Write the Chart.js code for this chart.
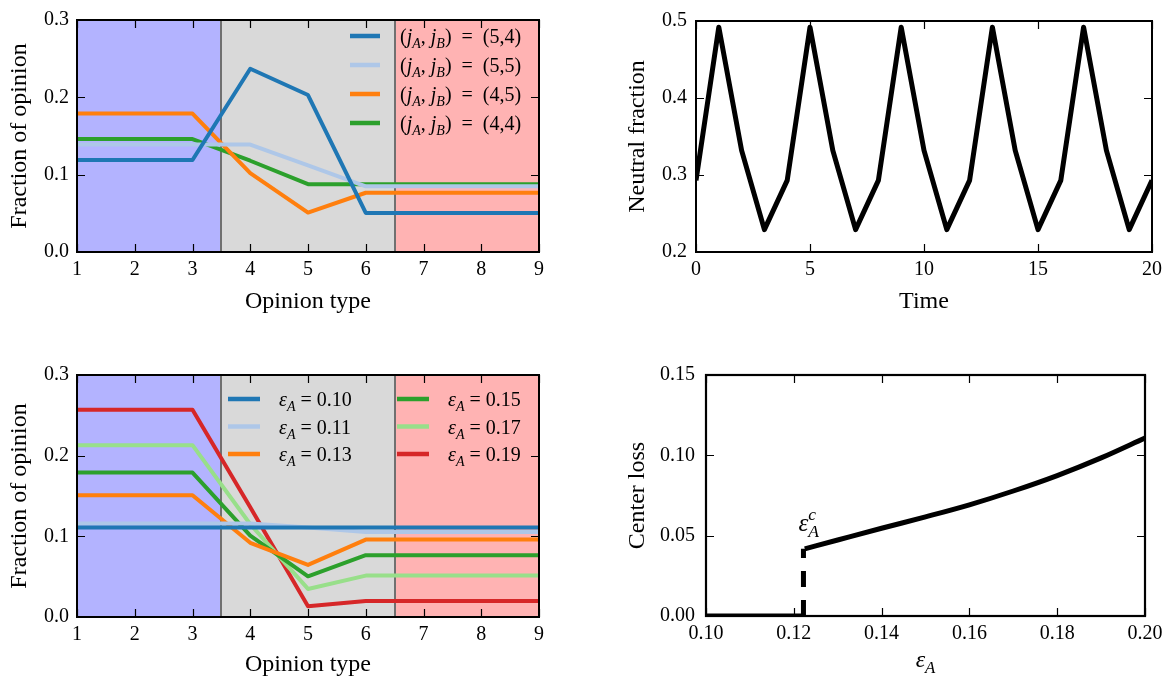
<!DOCTYPE html>
<html><head><meta charset="utf-8">
<script src="https://cdn.jsdelivr.net/npm/chart.js@4"></script>
<style>
body{margin:0;background:#fff;width:1170px;height:685px;position:relative;overflow:hidden}
canvas{position:absolute}
</style>
</head><body>
<canvas id="c1" width="585" height="340" style="left:0;top:0"></canvas>
<canvas id="c2" width="585" height="340" style="left:585px;top:0"></canvas>
<canvas id="c3" width="585" height="345" style="left:0;top:340px"></canvas>
<canvas id="c4" width="585" height="345" style="left:585px;top:340px"></canvas>
<script>
// ---------- data ----------
const opinionTypes = [1, 2, 3, 4, 5, 6, 7, 8, 9];
const regionBounds = [1, 3.5, 6.5, 9];

// top-left: (jA, jB) cases
const series54 = [0.119, 0.119, 0.119, 0.237, 0.203, 0.0505, 0.0505, 0.0505, 0.0505];
const series55 = [0.139, 0.139, 0.139, 0.139, 0.112, 0.085, 0.085, 0.085, 0.085];
const series45 = [0.179, 0.179, 0.179, 0.102, 0.051, 0.0766, 0.0766, 0.0766, 0.0766];
const series44 = [0.146, 0.146, 0.146, 0.118, 0.0877, 0.0877, 0.0877, 0.0877, 0.0877];
const pairLabels = ['(5,4)', '(5,5)', '(4,5)', '(4,4)'];

// top-right: neutral fraction over time
const timeSteps = [0, 1, 2, 3, 4, 5, 6, 7, 8, 9, 10, 11, 12, 13, 14, 15, 16, 17, 18, 19, 20];
const neutralFraction = [0.293, 0.492, 0.332, 0.229, 0.293, 0.492, 0.332, 0.229, 0.293, 0.492,
  0.332, 0.229, 0.293, 0.492, 0.332, 0.229, 0.293, 0.492, 0.332, 0.229, 0.293];

// bottom-left: epsilon_A cases
const epsLabels = ['0.10', '0.11', '0.13', '0.15', '0.17', '0.19'];
const eps010 = [0.111, 0.111, 0.111, 0.111, 0.111, 0.111, 0.111, 0.111, 0.111];
const eps011 = [0.116, 0.116, 0.116, 0.116, 0.111, 0.1055, 0.1055, 0.1055, 0.1055];
const eps013 = [0.151, 0.151, 0.151, 0.092, 0.0646, 0.096, 0.096, 0.096, 0.096];
const eps015 = [0.179, 0.179, 0.179, 0.101, 0.0505, 0.0766, 0.0766, 0.0766, 0.0766];
const eps017 = [0.213, 0.213, 0.213, 0.115, 0.0348, 0.0513, 0.0513, 0.0513, 0.0513];
const eps019 = [0.257, 0.257, 0.257, 0.136, 0.0132, 0.0199, 0.0199, 0.0199, 0.0199];

// bottom-right: center loss
const zeroEps = [0.10, 0.1222];
const zeroLoss = [0, 0];
const critEps = [0.1222, 0.1222];
const critLoss = [0, 0.0418];
const curveEps = [0.1225, 0.13, 0.14, 0.15, 0.16, 0.17, 0.18, 0.19, 0.20];
const curveLoss = [0.0418, 0.0473, 0.0546, 0.0617, 0.0692, 0.0778, 0.0874, 0.0984, 0.1108];

// ---------- helpers ----------
const FAM = '"Liberation Serif", "Times New Roman", serif';
const C = {blue:'#1f77b4', lblue:'#aec7e8', orange:'#ff7f0e', green:'#2ca02c', lgreen:'#98df8a', red:'#d62728'};
const regionColors = ['#b3b3ff', '#d9d9d9', '#ffb3b3'];

const pts = (xs, ys) => xs.map((x, i) => ({x, y: ys[i]}));

function drawRich(ctx, x, y, parts, size, measureOnly) {
  let cx = x, prevX = x;
  for (const p of parts) {
    const [t, st] = p;
    const it = st.includes('i');
    const sub = st.includes('b'), sup = st.includes('p');
    const fs = (sub || sup) ? size * 0.7 : size;
    ctx.font = (it ? 'italic ' : '') + fs + 'px ' + FAM;
    if (st.includes('k')) cx = prevX;
    const dy = sub ? size * 0.25 : (sup ? -size * 0.42 : 0);
    const w = ctx.measureText(t).width;
    if (!measureOnly) ctx.fillText(t, cx, y + dy);
    prevX = cx;
    cx += w;
  }
  return cx - x;
}

const framePlugin = {
  id: 'frame',
  beforeDatasetsDraw(chart, args, o) {
    if (!o.regions) return;
    const {ctx, chartArea: a, scales: {x}} = chart;
    ctx.save();
    for (let i = 0; i < regionColors.length; i++) {
      const x0 = x.getPixelForValue(regionBounds[i]);
      const x1 = x.getPixelForValue(regionBounds[i + 1]);
      ctx.fillStyle = regionColors[i];
      ctx.fillRect(x0, a.top, x1 - x0, a.bottom - a.top);
    }
    ctx.strokeStyle = '#707070';
    ctx.lineWidth = 2;
    for (let i = 1; i < regionBounds.length - 1; i++) {
      const px = Math.round(x.getPixelForValue(regionBounds[i]));
      ctx.beginPath(); ctx.moveTo(px, a.top); ctx.lineTo(px, a.bottom); ctx.stroke();
    }
    ctx.restore();
  },
  afterDatasetsDraw(chart, args, o) {
    const {ctx, chartArea: a, scales: {x, y}} = chart;
    ctx.save();
    ctx.strokeStyle = '#000'; ctx.lineWidth = 1.2;
    const TL = 8;
    x.ticks.forEach(t => {
      const px = Math.round(x.getPixelForValue(t.value)) + 0.5;
      ctx.beginPath();
      ctx.moveTo(px, a.bottom); ctx.lineTo(px, a.bottom - TL);
      ctx.moveTo(px, a.top); ctx.lineTo(px, a.top + TL);
      ctx.stroke();
    });
    y.ticks.forEach(t => {
      const py = Math.round(y.getPixelForValue(t.value)) + 0.5;
      ctx.beginPath();
      ctx.moveTo(a.left, py); ctx.lineTo(a.left + TL, py);
      ctx.moveTo(a.right, py); ctx.lineTo(a.right - TL, py);
      ctx.stroke();
    });
    ctx.lineWidth = o.frameWidth || 2;
    ctx.strokeRect(a.left, a.top, a.right - a.left, a.bottom - a.top);
    if (o.legend) {
      const L = o.legend;
      L.items.forEach((it, i) => {
        const col = Math.floor(i / L.rows);
        const row = i % L.rows;
        const cy = L.y0 + row * L.dy;
        const lx = L.x0[col];
        ctx.strokeStyle = it.color; ctx.lineWidth = 4.5; ctx.lineCap = 'butt';
        ctx.beginPath(); ctx.moveTo(lx, cy); ctx.lineTo(lx + L.lineLen, cy); ctx.stroke();
        ctx.fillStyle = '#000'; ctx.textBaseline = 'alphabetic'; ctx.textAlign = 'left';
        drawRich(ctx, lx + L.lineLen + L.gap, cy + 7, it.parts, 20);
      });
    }
    if (o.texts) {
      ctx.fillStyle = '#000'; ctx.textBaseline = 'alphabetic'; ctx.textAlign = 'left';
      o.texts.forEach(t => {
        let px = t.px != null ? t.px(a) : x.getPixelForValue(t.x) + (t.dx || 0);
        const py = t.py != null ? t.py(a) : y.getPixelForValue(t.y) + (t.dy || 0);
        if (t.center) px -= drawRich(ctx, 0, 0, t.parts, t.size, true) / 2;
        drawRich(ctx, px, py, t.parts, t.size);
      });
    }
    ctx.restore();
  }
};
Chart.register(framePlugin);

function axis({min, max, step, dec, pad, size, title, horizontal}) {
  return {
    type: 'linear', min, max,
    ticks: {stepSize: step, padding: pad, color: '#000', autoSkip: false, maxRotation: 0,
      font: {family: FAM, size: 20}, callback: v => Number(v).toFixed(dec)},
    grid: {display: false, drawTicks: false},
    border: {display: false},
    title: {display: !!title, text: title || '', color: '#000', padding: 0,
      font: {family: FAM, size: 24}},
    afterFit: s => { if (horizontal) s.height = size; else s.width = size; }
  };
}

function lineDs(data, color, width, extra) {
  return Object.assign({data, borderColor: color, backgroundColor: color, borderWidth: width,
    pointRadius: 0, tension: 0, fill: false, borderJoinStyle: 'round', borderCapStyle: 'butt'}, extra || {});
}

function baseOptions(padding, xAxis, yAxis, frame) {
  return {
    responsive: false, animation: false, devicePixelRatio: 1,
    layout: {padding, autoPadding: false},
    scales: {x: xAxis, y: yAxis},
    plugins: {legend: {display: false}, tooltip: {enabled: false}, frame},
    events: []
  };
}

const pairParts = lab => [['(', 'n'], ['j', 'i'], ['A', 'ib'], [', ', 'n'], ['j', 'i'], ['B', 'ib'], [')', 'n'], ['\u2002=\u2002', 'n'], [lab, 'n']];
const epsParts = lab => [['ε', 'i'], ['A', 'ib'], [' = ', 'n'], [lab, 'n']];

new Chart(document.getElementById('c1'), {
  type: 'line',
  data: {datasets: [
    lineDs(pts(opinionTypes, series54), C.blue, 4),
    lineDs(pts(opinionTypes, series55), C.lblue, 4),
    lineDs(pts(opinionTypes, series45), C.orange, 4),
    lineDs(pts(opinionTypes, series44), C.green, 4)
  ]},
  options: baseOptions({left: 5, top: 11, right: 46, bottom: 24},
    axis({min: 1, max: 9, step: 1, dec: 0, pad: 6, size: 64, title: 'Opinion type', horizontal: true}),
    axis({min: 0, max: 0.3, step: 0.1, dec: 1, pad: 8, size: 72, title: 'Fraction of opinion'}),
    {regions: true, legend: {rows: 4, y0: 36, dy: 29, x0: [350], lineLen: 30, gap: 20,
      items: [C.blue, C.lblue, C.orange, C.green].map((c, i) => ({color: c, parts: pairParts(pairLabels[i])}))}})
});

new Chart(document.getElementById('c2'), {
  type: 'line',
  data: {datasets: [lineDs(pts(timeSteps, neutralFraction), '#000', 5)]},
  options: baseOptions({left: 38, top: 11, right: 18, bottom: 24},
    axis({min: 0, max: 20, step: 5, dec: 0, pad: 6, size: 64, title: 'Time', horizontal: true}),
    axis({min: 0.2, max: 0.5, step: 0.1, dec: 1, pad: 9, size: 73, title: 'Neutral fraction'}),
    {})
});

new Chart(document.getElementById('c3'), {
  type: 'line',
  data: {datasets: [
    lineDs(pts(opinionTypes, eps010), C.blue, 4),
    lineDs(pts(opinionTypes, eps011), C.lblue, 4),
    lineDs(pts(opinionTypes, eps013), C.orange, 4),
    lineDs(pts(opinionTypes, eps015), C.green, 4),
    lineDs(pts(opinionTypes, eps017), C.lgreen, 4),
    lineDs(pts(opinionTypes, eps019), C.red, 4)
  ]},
  options: baseOptions({left: 5, top: 35, right: 46, bottom: 6},
    axis({min: 1, max: 9, step: 1, dec: 0, pad: 6, size: 62, title: 'Opinion type', horizontal: true}),
    axis({min: 0, max: 0.3, step: 0.1, dec: 1, pad: 8, size: 72, title: 'Fraction of opinion'}),
    {regions: true, legend: {rows: 3, y0: 59, dy: 27.5, x0: [228, 397], lineLen: 32, gap: 19,
      items: [C.blue, C.lblue, C.orange, C.green, C.lgreen, C.red].map((c, i) => ({color: c, parts: epsParts(epsLabels[i])}))}})
});

new Chart(document.getElementById('c4'), {
  type: 'line',
  data: {datasets: [
    lineDs(pts(zeroEps, zeroLoss), '#000', 5),
    lineDs(pts(critEps, critLoss), '#000', 5, {borderDash: [16, 13]}),
    lineDs(pts(curveEps, curveLoss), '#000', 5, {cubicInterpolationMode: 'monotone'})
  ]},
  options: baseOptions({left: 38, top: 35, right: 25, bottom: 6},
    axis({min: 0.10, max: 0.20, step: 0.02, dec: 2, pad: 6, size: 63, horizontal: true}),
    axis({min: 0, max: 0.15, step: 0.05, dec: 2, pad: 11, size: 83, title: 'Center loss'}),
    {frameWidth: 2.2, texts: [
      {x: 0.1222, y: 0.0418, dx: -5, dy: -18, size: 25, parts: [['ε', 'i'], ['A', 'ib'], ['c', 'ipk']]},
      {px: a => (a.left + a.right) / 2, py: a => a.bottom + 51, center: true, size: 24, parts: [['ε', 'i'], ['A', 'ib']]}
    ]})
});
</script>
</body></html>
